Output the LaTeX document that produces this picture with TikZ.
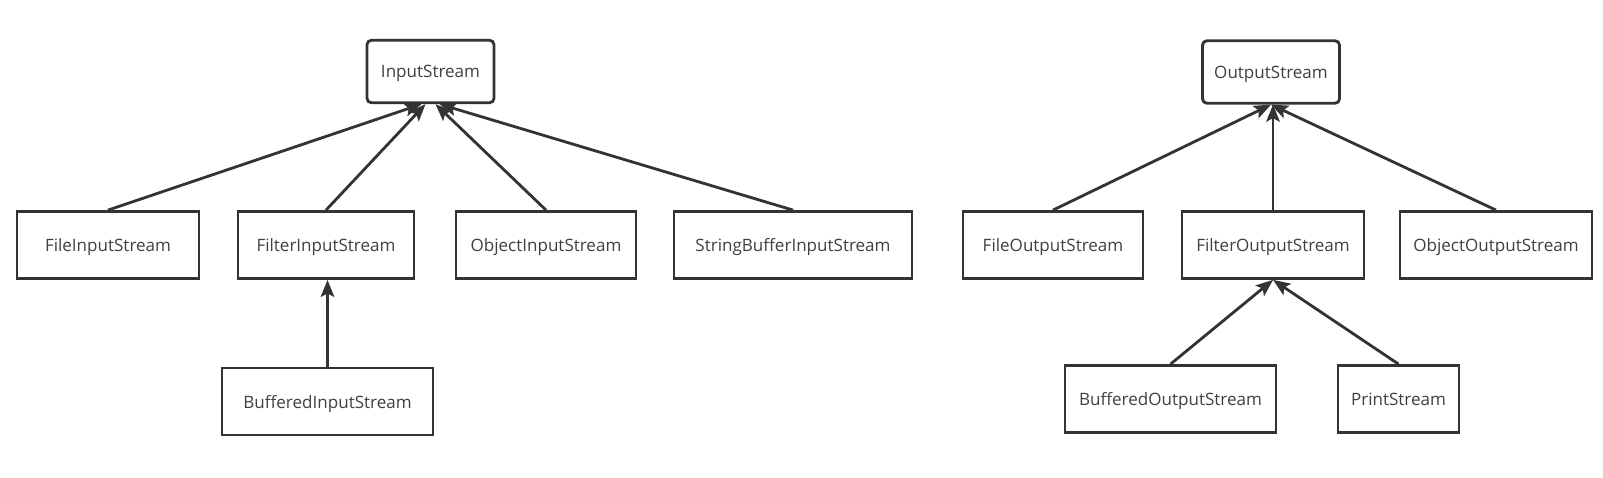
\documentclass[tikz,border=0pt]{standalone}
\usepackage{fontspec}
\setmainfont{Open Sans}
\usetikzlibrary{arrows.meta}
\definecolor{linegray}{HTML}{333333}
\definecolor{textgray}{HTML}{404040}

\begin{document}
\begin{tikzpicture}[x=0.02cm,y=-0.02cm,
  box/.style={draw=linegray,line width=1.6pt,fill=white,minimum height=1.34cm,
    inner sep=0pt,text depth=0pt,font=\fontsize{9.7}{12}\selectfont,text=textgray},
  root/.style={box,rounded corners=2.5pt,minimum height=1.25cm},
  inherit/.style={draw=linegray,line width=1.6pt,-{Stealth[length=0.34cm,width=0.27cm,inset=0.07cm]}}]
\useasboundingbox (0,0) rectangle (1603,477);
% input side
\node[root,minimum width=2.54cm] (in) at (430.5,71.5) {InputStream};
\node[box,minimum width=3.64cm] (fin) at (108,245) {FileInputStream};
\node[box,minimum width=3.52cm] (filterin) at (326,245) {FilterInputStream};
\node[box,minimum width=3.60cm] (objin) at (546,245) {ObjectInputStream};
\node[box,minimum width=4.76cm] (sbin) at (793,245) {StringBufferInputStream};
\node[box,minimum width=4.22cm] (bufin) at (327.5,401.5) {BufferedInputStream};
\draw[inherit] (fin.north) -- ([xshift=-0.18cm]in.south);
\draw[inherit] (filterin.north) -- ([xshift=-0.1cm]in.south);
\draw[inherit] (objin.north) -- ([xshift=0.1cm]in.south);
\draw[inherit] (sbin.north) -- ([xshift=0.18cm]in.south);
\draw[inherit] (bufin.north) -- (bufin.north |- filterin.south);
% output side
\node[root,minimum width=2.74cm] (out) at (1271,72) {OutputStream};
\node[box,minimum width=3.60cm] (fout) at (1053,245) {FileOutputStream};
\node[box,minimum width=3.64cm] (filterout) at (1273,245) {FilterOutputStream};
\node[box,minimum width=3.84cm] (objout) at (1496,245) {ObjectOutputStream};
\node[box,minimum width=4.22cm] (bufout) at (1170.5,399) {BufferedOutputStream};
\node[box,minimum width=2.42cm] (print) at (1398.5,399) {PrintStream};
\draw[inherit] (fout.north) -- (out.south);
\draw[inherit] (filterout.north) -- (filterout.north |- out.south);
\draw[inherit] (objout.north) -- (out.south);
\draw[inherit] (bufout.north) -- (filterout.south);
\draw[inherit] (print.north) -- (filterout.south);
\end{tikzpicture}
\end{document}
